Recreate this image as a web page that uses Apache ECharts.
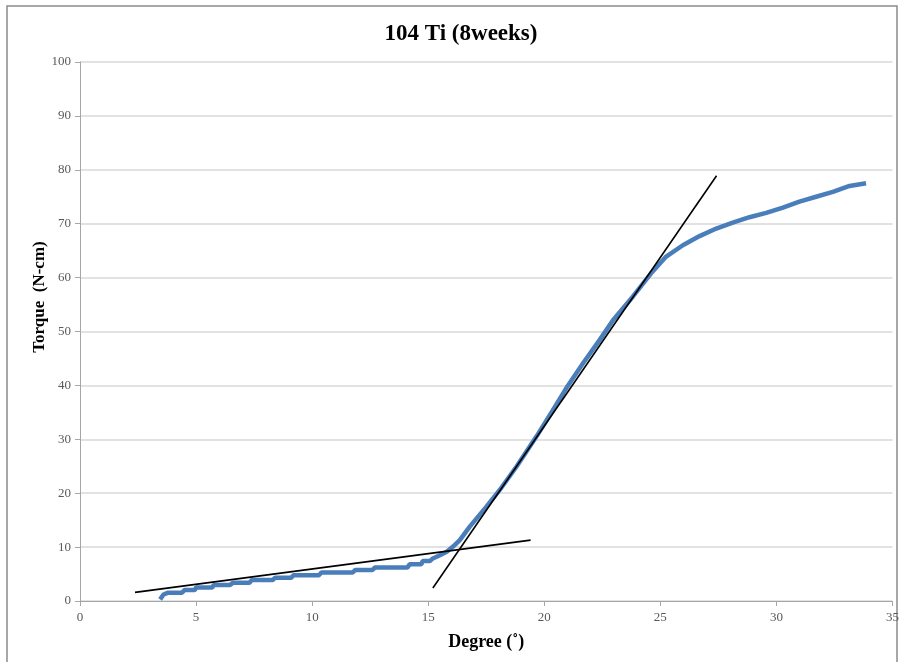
<!DOCTYPE html>
<html>
<head>
<meta charset="utf-8">
<script src="https://cdn.jsdelivr.net/npm/echarts@6/dist/echarts.min.js"></script>
<style>
html,body{margin:0;padding:0;background:#fff;}
#chart{width:902px;height:662px;}
</style>
</head>
<body>
<div id="chart"></div>
<script>
const chartTitle = '104 Ti (8weeks)';
const xAxisName = 'Degree (˚)';
const yAxisName = 'Torque  (N-cm)';

// Measured torque curve
const curveDegree = [3.45,3.6,3.8,4.4,4.5,4.95,5.0,5.7,5.75,6.45,6.6,7.3,7.4,8.3,8.4,9.1,9.2,10.3,10.4,11.75,11.85,12.6,12.7,14.1,14.2,14.7,14.76,15.07,15.2,15.5,15.8,16.07,16.36,16.79,17.51,18.08,18.8,19.66,20.37,20.95,21.67,22.38,22.96,23.82,24.6,25.25,25.97,26.69,27.41,28.12,28.84,29.56,30.28,30.99,31.71,32.43,33.15,33.86];
const curveTorque = [0.3,1.2,1.55,1.55,2.05,2.05,2.5,2.5,2.95,2.95,3.4,3.4,3.9,3.9,4.3,4.3,4.8,4.8,5.3,5.3,5.75,5.75,6.2,6.2,6.8,6.8,7.4,7.4,7.9,8.5,9.15,10.1,11.3,13.8,17.5,20.6,24.9,30.5,35.4,39.5,44.1,48.4,52.1,56.5,60.8,63.9,66.0,67.7,69.1,70.2,71.2,72.0,73.0,74.1,75.0,75.9,77.0,77.5];

// Tangent lines
const fitLowDegree = [2.37, 19.41];
const fitLowTorque = [1.6, 11.3];
const fitSteepDegree = [15.2, 27.42];
const fitSteepTorque = [2.4, 78.9];

const xTicks = [0, 35, 5];
const yTicks = [0, 100, 10];

const zip = (a, b) => a.map((v, i) => [v, b[i]]);

const chart = echarts.init(document.getElementById('chart'), null, {renderer: 'canvas'});
const serif = '"Liberation Serif", "Times New Roman", serif';
chart.setOption({
  animation: false,
  backgroundColor: '#fff',
  graphic: [
    {
      type: 'rect',
      shape: {x: 7, y: 6, width: 890, height: 700},
      style: {fill: 'none', stroke: '#8c8c8c', lineWidth: 1.5},
      silent: true, z: -1
    },
    {
      type: 'text', x: 461, y: 34,
      style: {text: chartTitle, textAlign: 'center', textVerticalAlign: 'middle',
        font: 'bold 23px ' + serif, fill: '#000'}
    },
    {
      type: 'text', x: 40, y: 297, rotation: Math.PI / 2,
      style: {text: yAxisName, textAlign: 'center', textVerticalAlign: 'middle',
        font: 'bold 17px ' + serif, fill: '#000'}
    }
  ],
  grid: {left: 80, right: 9, top: 62, bottom: 61, containLabel: false},
  xAxis: {
    type: 'value', min: xTicks[0], max: xTicks[1], interval: xTicks[2],
    name: xAxisName, nameLocation: 'middle', nameGap: 32,
    nameTextStyle: {fontFamily: serif, fontWeight: 'bold', fontSize: 18, color: '#000'},
    axisLine: {show: true, lineStyle: {color: '#a6a6a6', width: 1}},
    axisTick: {show: true, length: 5, lineStyle: {color: '#a6a6a6'}},
    axisLabel: {fontFamily: serif, fontSize: 13, color: '#595959', margin: 10},
    splitLine: {show: false}
  },
  yAxis: {
    type: 'value', min: yTicks[0], max: yTicks[1], interval: yTicks[2],
    axisLine: {show: true, lineStyle: {color: '#a6a6a6', width: 1}},
    axisTick: {show: true, length: 5, lineStyle: {color: '#a6a6a6'}},
    axisLabel: {fontFamily: serif, fontSize: 13, color: '#595959', margin: 9},
    splitLine: {show: true, lineStyle: {color: '#d9d9d9', width: 1.5}}
  },
  series: [
    {
      type: 'line', data: zip(curveDegree, curveTorque), showSymbol: false,
      lineStyle: {color: '#4a7ebb', width: 4.5}, z: 2
    },
    {
      type: 'line', data: zip(fitLowDegree, fitLowTorque), showSymbol: false,
      lineStyle: {color: '#000', width: 1.6}, z: 3
    },
    {
      type: 'line', data: zip(fitSteepDegree, fitSteepTorque), showSymbol: false,
      lineStyle: {color: '#000', width: 1.6}, z: 3
    }
  ]
});
</script>
</body>
</html>
